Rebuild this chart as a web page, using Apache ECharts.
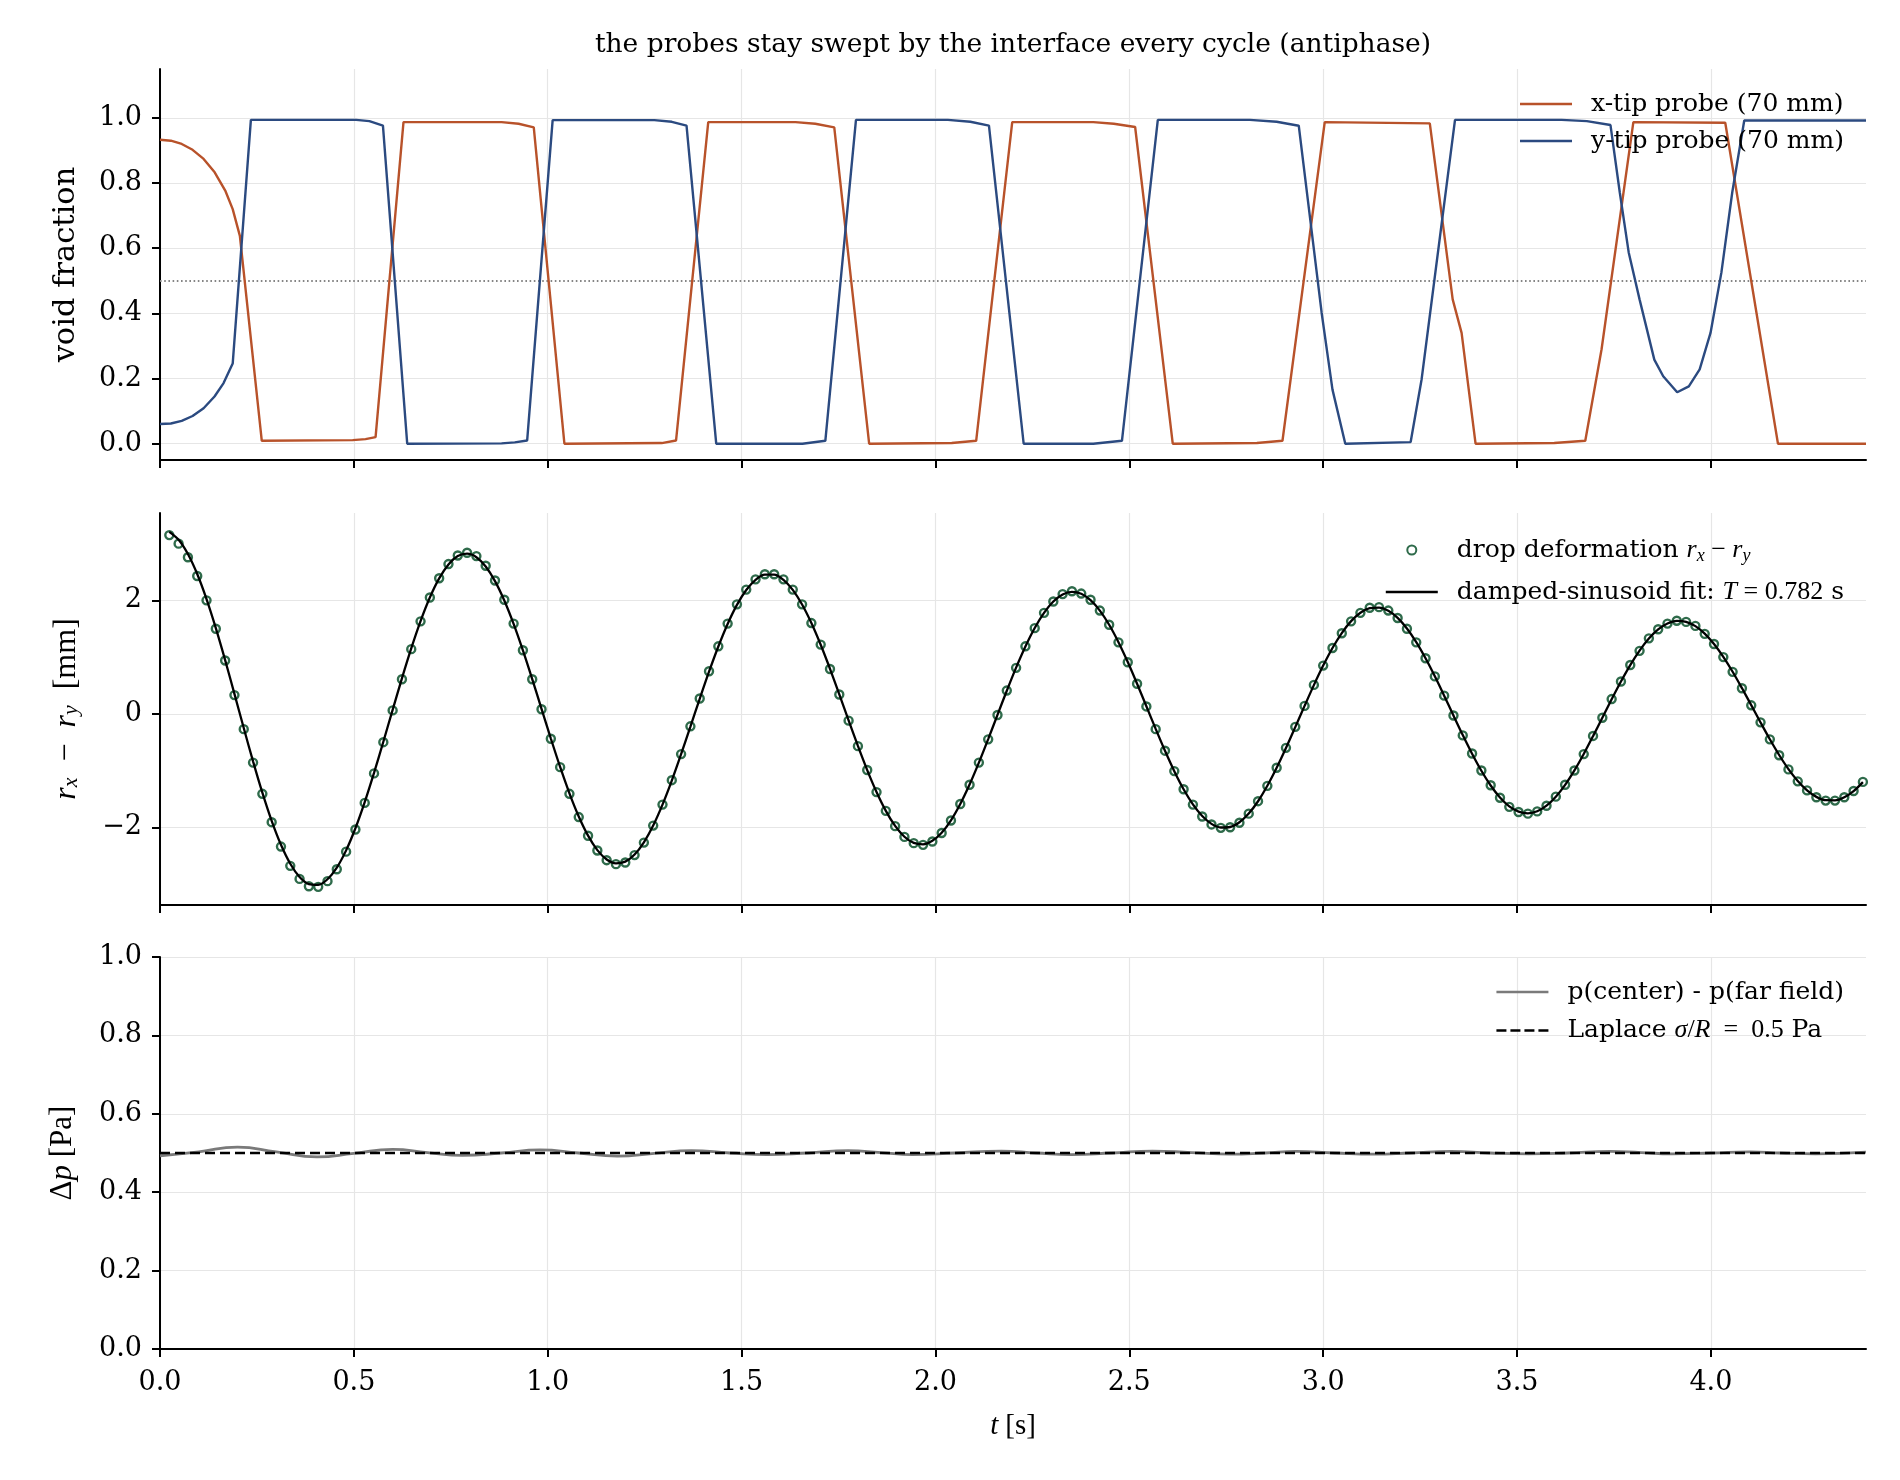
<!DOCTYPE html>
<html>
<head>
<meta charset="utf-8">
<script src="https://cdn.jsdelivr.net/npm/echarts@6.0.0/dist/echarts.min.js"></script>
<style>
  html, body { margin: 0; padding: 0; background: #fff; }
  #chart { width: 1900px; height: 1480px; }
</style>
</head>
<body>
<div id="chart"></div>
<script>
const SERIF = 'DejaVu Serif'
const MATH = 'Liberation Serif'
const ORANGE = '#b8522a'
const BLUE = '#2b4a80'
const GREEN = '#2f6b4b'

// shared time axis
const T_MAX = 4.4
const xTicks = [0, 0.5, 1, 1.5, 2, 2.5, 3, 3.5, 4]
const voidTicks = [0, 0.2, 0.4, 0.6, 0.8, 1]
const deformTicks = [-2, 0, 2]
const pressureTicks = [0, 0.2, 0.4, 0.6, 0.8, 1]

// panel 1: void fraction at the two probe tips (polyline vertices)
const xTipT = [0, 0.028, 0.056, 0.084, 0.1125, 0.141, 0.169, 0.1875, 0.206, 0.2625, 0.497, 0.53, 0.556, 0.628,
  0.881, 0.925, 0.964, 1.043, 1.294, 1.331, 1.414, 1.639, 1.69, 1.739, 1.829, 2.042, 2.105, 2.198,
  2.407, 2.46, 2.515, 2.612, 2.829, 2.895, 3.004, 3.275, 3.334, 3.357, 3.393, 3.596, 3.676, 3.718, 3.8,
  4.037, 4.173, 4.4]
const xTipV = [0.933, 0.930, 0.920, 0.902, 0.874, 0.833, 0.775, 0.720, 0.638, 0.009, 0.011, 0.014, 0.020, 0.987,
  0.987, 0.982, 0.971, 0.000, 0.002, 0.010, 0.987, 0.987, 0.982, 0.971, 0.000, 0.002, 0.009, 0.987,
  0.987, 0.982, 0.972, 0.000, 0.002, 0.009, 0.987, 0.983, 0.443, 0.340, 0.000, 0.002, 0.009, 0.290, 0.987,
  0.985, 0.000, 0.000]
const yTipT = [0, 0.028, 0.056, 0.084, 0.1125, 0.1406, 0.164, 0.1875, 0.2344, 0.506, 0.54, 0.575, 0.6376,
  0.881, 0.915, 0.947, 1.0127, 1.275, 1.32, 1.358, 1.4346, 1.657, 1.716, 1.795, 2.032, 2.09, 2.138, 2.2275,
  2.407, 2.481, 2.5735, 2.811, 2.88, 2.937, 2.996, 3.024, 3.057, 3.2256, 3.2538, 3.34, 3.615, 3.68, 3.741,
  3.765, 3.788, 3.816, 3.854, 3.877, 3.913, 3.943, 3.971, 3.999, 4.027, 4.055, 4.086, 4.4]
const yTipV = [0.0605, 0.062, 0.070, 0.085, 0.109, 0.145, 0.186, 0.246, 0.994, 0.994, 0.990, 0.976, 0.000,
  0.001, 0.004, 0.010, 0.993, 0.993, 0.988, 0.976, 0.000, 0.000, 0.009, 0.994, 0.994, 0.988, 0.976, 0.000,
  0.000, 0.009, 0.994, 0.994, 0.988, 0.976, 0.402, 0.166, 0.000, 0.005, 0.197, 0.994, 0.994, 0.990, 0.978,
  0.771, 0.587, 0.443, 0.258, 0.207, 0.158, 0.176, 0.228, 0.340, 0.525, 0.771, 0.992, 0.992]
const SWEEP_LEVEL = 0.5

// panel 2: drop deformation r_x - r_y [mm], sampled every 0.024 s starting at 0.024 s
const DEFORM_T0 = 0.024
const DEFORM_DT = 0.024
const deformation = [
  3.15, 3.00, 2.76, 2.43, 2.00, 1.50, 0.94, 0.33, -0.27, -0.86,
  -1.41, -1.91, -2.34, -2.68, -2.91, -3.04, -3.05, -2.95, -2.74, -2.43,
  -2.04, -1.57, -1.05, -0.50, 0.06, 0.61, 1.14, 1.63, 2.05, 2.39,
  2.64, 2.79, 2.84, 2.78, 2.61, 2.35, 2.01, 1.59, 1.12, 0.61,
  0.08, -0.44, -0.94, -1.41, -1.82, -2.15, -2.41, -2.58, -2.65, -2.62,
  -2.49, -2.27, -1.97, -1.60, -1.17, -0.71, -0.22, 0.27, 0.75, 1.19,
  1.59, 1.93, 2.19, 2.37, 2.46, 2.46, 2.37, 2.19, 1.93, 1.60,
  1.22, 0.79, 0.34, -0.12, -0.57, -0.99, -1.38, -1.71, -1.98, -2.17,
  -2.28, -2.31, -2.25, -2.10, -1.88, -1.59, -1.25, -0.86, -0.45, -0.02,
  0.41, 0.81, 1.19, 1.51, 1.78, 1.98, 2.11, 2.16, 2.12, 2.01,
  1.82, 1.57, 1.26, 0.91, 0.53, 0.13, -0.27, -0.65, -1.01, -1.33,
  -1.60, -1.81, -1.95, -2.01, -2.00, -1.92, -1.76, -1.54, -1.27, -0.95,
  -0.60, -0.23, 0.14, 0.51, 0.85, 1.16, 1.42, 1.63, 1.78, 1.87,
  1.88, 1.82, 1.69, 1.50, 1.26, 0.98, 0.66, 0.32, -0.03, -0.38,
  -0.70, -1.00, -1.26, -1.48, -1.64, -1.73, -1.76, -1.72, -1.62, -1.46,
  -1.25, -1.00, -0.71, -0.39, -0.07, 0.26, 0.57, 0.86, 1.11, 1.33,
  1.49, 1.59, 1.64, 1.62, 1.55, 1.41, 1.23, 1.00, 0.74, 0.45,
  0.15, -0.15, -0.45, -0.73, -0.98, -1.19, -1.35, -1.47, -1.53, -1.53,
  -1.47, -1.36, -1.20
]
const deformationFit = [
  3.208, 3.068, 2.817, 2.464, 2.022, 1.510, 0.946, 0.352, -0.250, -0.838,
  -1.390, -1.887, -2.309, -2.643, -2.876, -3.001, -3.014, -2.916, -2.711, -2.407,
  -2.017, -1.556, -1.041, -0.492, 0.070, 0.626, 1.153, 1.634, 2.050, 2.387,
  2.633, 2.780, 2.823, 2.761, 2.598, 2.340, 1.998, 1.585, 1.117, 0.612,
  0.088, -0.435, -0.937, -1.401, -1.809, -2.147, -2.403, -2.567, -2.636, -2.606,
  -2.481, -2.265, -1.968, -1.600, -1.176, -0.712, -0.225, 0.265, 0.742, 1.187,
  1.585, 1.921, 2.183, 2.363, 2.453, 2.453, 2.361, 2.184, 1.927, 1.601,
  1.218, 0.794, 0.344, -0.115, -0.566, -0.992, -1.378, -1.710, -1.976, -2.167,
  -2.276, -2.300, -2.239, -2.096, -1.877, -1.590, -1.247, -0.861, -0.446, -0.018,
  0.407, 0.814, 1.187, 1.513, 1.780, 1.980, 2.105, 2.151, 2.117, 2.005,
  1.820, 1.570, 1.263, 0.913, 0.531, 0.134, -0.266, -0.652, -1.011, -1.330,
  -1.597, -1.802, -1.940, -2.004, -1.995, -1.911, -1.758, -1.541, -1.269, -0.952,
  -0.603, -0.234, 0.140, 0.506, 0.850, 1.160, 1.424, 1.634, 1.782, 1.862,
  1.873, 1.815, 1.690, 1.504, 1.264, 0.979, 0.661, 0.320, -0.029, -0.375,
  -0.703, -1.003, -1.264, -1.475, -1.631, -1.724, -1.754, -1.718, -1.619, -1.461,
  -1.251, -0.996, -0.707, -0.393, -0.068, 0.257, 0.570, 0.859, 1.114, 1.326,
  1.487, 1.591, 1.637, 1.621, 1.546, 1.414, 1.231, 1.004, 0.742, 0.454,
  0.153, -0.152, -0.449, -0.726, -0.975, -1.185, -1.350, -1.464, -1.523, -1.524,
  -1.470, -1.362, -1.204
]

// panel 3: pressure jump [Pa]
const pressureT = [0, 0.1, 0.2, 0.3, 0.405, 0.5, 0.6, 0.69, 0.78, 0.88, 0.98, 1.08, 1.18, 1.275, 1.37,
  1.47, 1.565, 1.67, 1.775, 1.86, 1.94, 2.05, 2.17, 2.26, 2.35, 2.455, 2.56, 2.66, 2.76, 2.85,
  2.93, 3.03, 3.13, 3.225, 3.33, 3.43, 3.53, 3.63, 3.74, 3.82, 3.9, 4.0, 4.1, 4.18, 4.27, 4.4]
const pressureV = [0.493, 0.503, 0.515, 0.503, 0.490, 0.499, 0.509, 0.501, 0.494, 0.500, 0.508, 0.500, 0.492, 0.499, 0.506,
  0.500, 0.496, 0.500, 0.506, 0.501, 0.496, 0.500, 0.505, 0.500, 0.496, 0.500, 0.505, 0.501, 0.497, 0.500,
  0.504, 0.500, 0.497, 0.500, 0.504, 0.500, 0.498, 0.500, 0.504, 0.501, 0.498, 0.500, 0.503, 0.500, 0.498, 0.502]
const LAPLACE = 0.5

const pairs = (ts, vs) => ts.map((t, i) => [t, vs[i]])
const sampled = (vs) => vs.map((v, i) => [+(DEFORM_T0 + i * DEFORM_DT).toFixed(3), v])

const names = {
  xTip: 'x-tip probe (70 mm)',
  yTip: 'y-tip probe (70 mm)',
  drop: 'drop deformation',
  fit: 'damped-sinusoid fit',
  dp: 'p(center) - p(far field)',
  laplace: 'Laplace'
}
const legendLabels = {
  [names.drop]: 'drop deformation {m|r}{s|x}{r| − }{m|r}{s|y}',
  [names.fit]: 'damped-sinusoid fit: {m|T}{r| = 0.782} s',
  [names.laplace]: 'Laplace {m|σ}{r|/}{m|R}{r|\u2002=\u20020.5} Pa'
}

const richFor = (size, sub) => ({
  m: { fontFamily: MATH, fontStyle: 'italic', fontSize: size },
  r: { fontFamily: MATH, fontSize: size },
  s: { fontFamily: MATH, fontStyle: 'italic', fontSize: sub, verticalAlign: 'bottom', lineHeight: sub + 1 }
})

// legend glyphs: a 2.4 px bar inside a box of the given height (corner dots fix the box)
const barIcon = (h) => `path://M0,0h0.01v0.01h-0.01z M0,${(h - 2.4) / 2}h52v2.4h-52z M51.99,${h - 0.01}h0.01v0.01h-0.01z`
const dashIcon = (h) => {
  const y = (h - 2.4) / 2
  return `path://M0,0h0.01v0.01h-0.01z M0,${y}h10v2.4h-10z M14,${y}h10v2.4h-10z M28,${y}h10v2.4h-10z M42,${y}h10v2.4h-10z M51.99,${h - 0.01}h0.01v0.01h-0.01z`
}

const axisLineStyle = { color: '#000', width: 2 }
const gridLineStyle = { color: '#e6e6e6', width: 1.2 }

const grids = [
  { left: 160, right: 34, top: 69, height: 391, outerBoundsMode: 'none' },
  { left: 160, right: 34, top: 513, height: 392, outerBoundsMode: 'none' },
  { left: 160, right: 34, top: 957, height: 392, outerBoundsMode: 'none' }
]

const makeX = (gridIndex, showLabels) => ({
  type: 'value',
  gridIndex,
  min: 0,
  max: T_MAX,
  axisLine: { show: true, onZero: false, lineStyle: axisLineStyle },
  axisTick: { show: true, length: 8, lineStyle: axisLineStyle, customValues: xTicks },
  axisLabel: {
    show: showLabels, customValues: xTicks, margin: 19, lineHeight: 30,
    fontFamily: SERIF, fontSize: 27, color: '#000', formatter: v => v.toFixed(1)
  },
  splitLine: { show: true, lineStyle: gridLineStyle },
  ...(showLabels ? {
    name: '{m|t} {r|[s]}',
    nameLocation: 'middle',
    nameGap: 62,
    nameTextStyle: { fontFamily: MATH, fontSize: 28, lineHeight: 30, color: '#000', rich: richFor(29, 20) }
  } : {})
})

const makeY = (gridIndex, min, max, ticks, fmt, name, nameGap, nameRich) => ({
  type: 'value',
  gridIndex,
  min,
  max,
  axisLine: { show: true, onZero: false, lineStyle: axisLineStyle },
  axisTick: { show: true, length: 8, lineStyle: axisLineStyle, customValues: ticks },
  axisLabel: {
    customValues: ticks, margin: 18, fontFamily: SERIF, fontSize: 27, color: '#000', formatter: fmt
  },
  splitLine: { show: true, lineStyle: gridLineStyle },
  name,
  nameLocation: 'middle',
  nameRotate: 90,
  nameGap,
  nameTextStyle: { fontFamily: SERIF, fontSize: 30.5, lineHeight: 30, color: '#000', rich: nameRich }
})

const legendBox = (names, top, itemHeight, gap) => ({
  data: names,
  orient: 'vertical',
  right: 56,
  top,
  padding: 0,
  itemGap: gap,
  itemWidth: 52,
  itemHeight,
  selectedMode: false,
  formatter: name => legendLabels[name] || name,
  textStyle: {
    fontFamily: SERIF, fontSize: 25, color: '#000', lineHeight: 30,
    padding: [0, 0, 0, 14], rich: richFor(26, 18)
  }
})

const option = {
  backgroundColor: '#fff',
  animation: false,
  textStyle: { fontFamily: SERIF },
  title: {
    text: 'the probes stay swept by the interface every cycle (antiphase)',
    left: 1013,
    top: 30,
    textAlign: 'center',
    padding: 0,
    textStyle: { fontFamily: SERIF, fontSize: 26.5, fontWeight: 'normal', color: '#000', lineHeight: 30 }
  },
  grid: grids,
  xAxis: [makeX(0, false), makeX(1, false), makeX(2, true)],
  yAxis: [
    makeY(0, -0.05, 1.15, voidTicks, v => v.toFixed(1), 'void fraction', 79, richFor(30, 21)),
    makeY(1, -3.37, 3.54, deformTicks, v => (v < 0 ? '−' + Math.abs(v) : String(v)),
      '{m|r}{s|x}{r|\u2002−\u2002}{m|r}{s|y}{r|\u2002[mm]}', 78, richFor(32, 22)),
    makeY(2, 0, 1, pressureTicks, v => v.toFixed(1), '{r|Δ}{m|p}{r| [Pa]}', 82, richFor(31, 21))
  ],
  legend: [
    legendBox([
      { name: names.xTip, icon: barIcon(14) },
      { name: names.yTip, icon: barIcon(14) }
    ], 89, 14, 7),
    legendBox([
      { name: names.drop, icon: 'circle' },
      { name: names.fit, icon: barIcon(9) }
    ], 535, 9, 12),
    legendBox([
      { name: names.dp, icon: barIcon(14) },
      { name: names.laplace, icon: dashIcon(14) }
    ], 977, 14, 8.5)
  ],
  series: [
    {
      name: names.xTip, type: 'line', xAxisIndex: 0, yAxisIndex: 0,
      data: pairs(xTipT, xTipV), showSymbol: false,
      lineStyle: { color: ORANGE, width: 2.4 }, itemStyle: { color: ORANGE },
      markLine: {
        silent: true, symbol: 'none', label: { show: false }, z: 1,
        lineStyle: { color: '#858585', width: 1.8, type: [1.6, 2.6] },
        data: [{ yAxis: SWEEP_LEVEL }]
      }
    },
    {
      name: names.yTip, type: 'line', xAxisIndex: 0, yAxisIndex: 0,
      data: pairs(yTipT, yTipV), showSymbol: false,
      lineStyle: { color: BLUE, width: 2.4 }, itemStyle: { color: BLUE }
    },
    {
      name: names.drop, type: 'scatter', xAxisIndex: 1, yAxisIndex: 1,
      data: sampled(deformation), symbol: 'circle', symbolSize: 8,
      itemStyle: { color: 'rgba(255,255,255,0)', borderColor: GREEN, borderWidth: 2.4, opacity: 1 }
    },
    {
      name: names.fit, type: 'line', xAxisIndex: 1, yAxisIndex: 1, z: 3,
      data: sampled(deformationFit), showSymbol: false, smooth: 0.3,
      lineStyle: { color: '#000', width: 2.3 }, itemStyle: { color: '#000' }
    },
    {
      name: names.dp, type: 'line', xAxisIndex: 2, yAxisIndex: 2,
      data: pairs(pressureT, pressureV), showSymbol: false, smooth: 0.5,
      lineStyle: { color: '#7a7a7a', width: 2.8 }, itemStyle: { color: '#7a7a7a' }
    },
    {
      name: names.laplace, type: 'line', xAxisIndex: 2, yAxisIndex: 2, z: 3,
      data: [[pressureT[0], LAPLACE], [pressureT[pressureT.length - 1], LAPLACE]], showSymbol: false,
      lineStyle: { color: '#000', width: 2.5, type: [10, 5] }, itemStyle: { color: '#000' }
    }
  ]
}

const chart = echarts.init(document.getElementById('chart'), null, { renderer: 'canvas' })
chart.setOption(option)
</script>
</body>
</html>
